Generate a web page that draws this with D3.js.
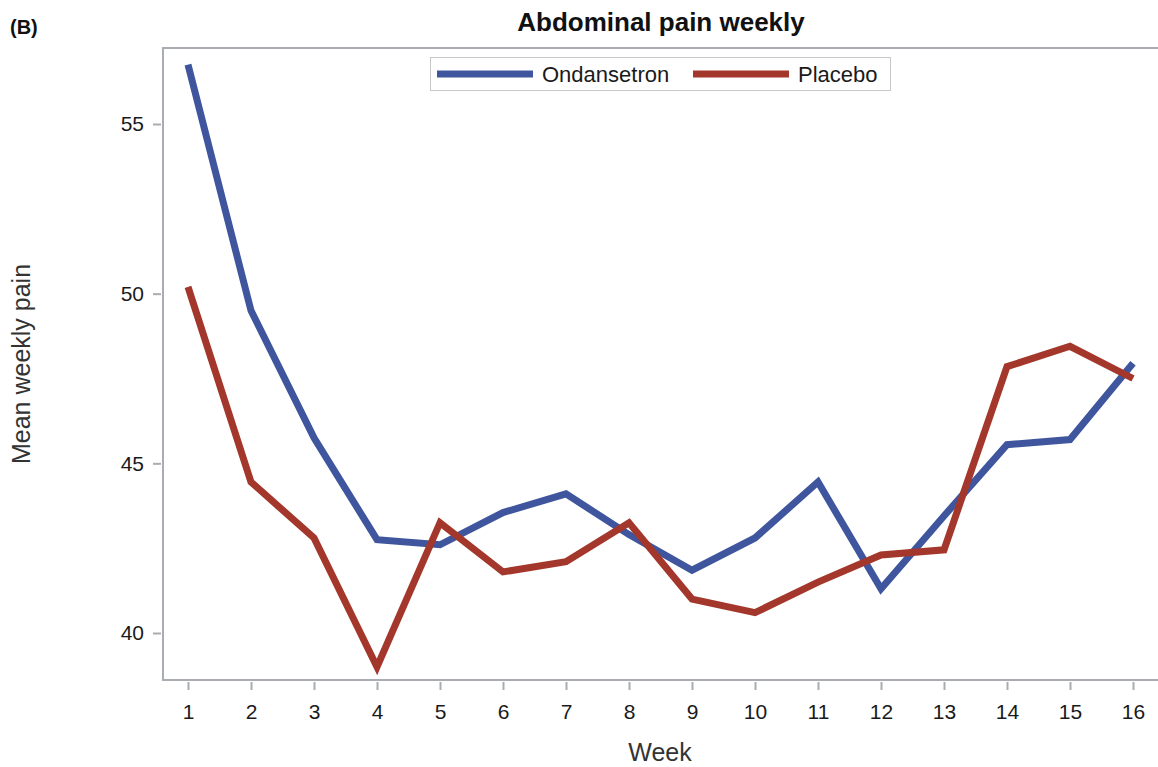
<!DOCTYPE html>
<html lang="en">
<head>
    <meta charset="UTF-8">
    <title>Abdominal pain weekly</title>
    <script src="https://cdn.jsdelivr.net/npm/d3@7"></script>
    <style>
        body{ margin:0; background:#fff; }
        svg{ display:block; font-family:"Liberation Sans", Arial, sans-serif; }
    </style>
</head>
<body>
    <div class="container"></div>
    <script>
        const weeks = [1,2,3,4,5,6,7,8,9,10,11,12,13,14,15,16]
        const ondansetron = [56.75,49.5,45.75,42.75,42.6,43.55,44.1,42.9,41.85,42.8,44.45,41.3,43.45,45.55,45.7,47.95]
        const placebo = [50.2,44.45,42.8,39.0,43.25,41.8,42.1,43.25,41.0,40.6,41.5,42.3,42.45,47.85,48.45,47.5]
        const yTicks = [40,45,50,55]
        const seriesNames = ["Ondansetron","Placebo"]
        const colors = ["#3f569e","#a4372b"]

        const width = 1158, height = 767
        const svg = d3.select(".container").append("svg")
            .attr("width", width).attr("height", height)

        const frameLeft = 163, frameTop = 48, frameBottom = 680

        const x = d3.scaleLinear().domain([1,16]).range([188,1133])
        const y = d3.scaleLinear().domain([40,55]).range([633,124])

        // frame (top + left + bottom)
        svg.append("path")
            .attr("d", `M${width},${frameTop}H${frameLeft}V${frameBottom}H${width}`)
            .attr("fill","none").attr("stroke","#a9acb0").attr("stroke-width",2)

        // axes
        const xAxis = svg.append("g")
            .attr("transform", `translate(0,${frameBottom})`)
            .call(d3.axisBottom(x).tickValues(weeks).tickSize(10).tickPadding(14).tickFormat(d3.format("d")))
        const yAxis = svg.append("g")
            .attr("transform", `translate(${frameLeft},0)`)
            .call(d3.axisLeft(y).tickValues(yTicks).tickSize(10).tickPadding(9))

        for (const ax of [xAxis, yAxis]) {
            ax.select(".domain").remove()
            ax.selectAll(".tick line").attr("stroke","#a9acb0").attr("stroke-width",2)
            ax.selectAll(".tick text").attr("fill","#1a1a1a").attr("font-size",21)
                .attr("font-family","\"Liberation Sans\", Arial, sans-serif")
        }
        xAxis.selectAll(".tick line").attr("y1", 2)
        yAxis.selectAll(".tick line").attr("x1", -2)

        // lines
        const line = d3.line().x((d,i) => x(weeks[i])).y(d => y(d))
        svg.selectAll("path.series")
            .data([ondansetron, placebo])
            .join("path")
            .attr("class","series")
            .attr("d", line)
            .attr("fill","none")
            .attr("stroke", (d,i) => colors[i])
            .attr("stroke-width", 7)
            .attr("stroke-linejoin","miter")

        // legend
        const legend = svg.append("g")
        legend.append("rect")
            .attr("x", 430.5).attr("y", 57.5).attr("width", 460).attr("height", 33)
            .attr("fill","#fff").attr("stroke","#c8c8c8")
        const legendX = [437, 693]
        seriesNames.forEach((name, i) => {
            legend.append("line")
                .attr("x1", legendX[i]).attr("x2", legendX[i] + 96)
                .attr("y1", 74).attr("y2", 74)
                .attr("stroke", colors[i]).attr("stroke-width", 7)
            legend.append("text")
                .attr("x", legendX[i] + 105).attr("y", 82)
                .attr("font-size", 22).attr("fill","#1a1a1a")
                .text(name)
        })

        // titles
        svg.append("text").attr("x", 661).attr("y", 31)
            .attr("text-anchor","middle").attr("font-size",26).attr("font-weight","bold")
            .attr("fill","#111").text("Abdominal pain weekly")
        svg.append("text").attr("x", 10).attr("y", 34)
            .attr("font-size",20).attr("font-weight","bold").attr("fill","#111").text("(B)")
        svg.append("text").attr("x", 660).attr("y", 761)
            .attr("text-anchor","middle").attr("font-size",25).attr("fill","#333").text("Week")
        svg.append("text")
            .attr("transform","translate(30,364) rotate(-90)")
            .attr("text-anchor","middle").attr("font-size",25).attr("fill","#333").text("Mean weekly pain")
    </script>
</body>
</html>
